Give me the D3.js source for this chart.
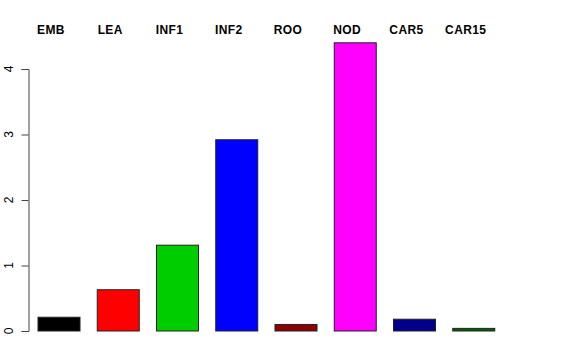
<!DOCTYPE html>
<html>
<head>
<meta charset="utf-8">
<script src="https://cdn.jsdelivr.net/npm/d3@7"></script>
<style>
	body{margin:0;background:#fff;}
	svg{display:block;font-family:"Liberation Sans", Arial, sans-serif;}
</style>
</head>
<body>
<div id="chart"></div>
<script>
//data
let categories = ["EMB", "LEA", "INF1", "INF2", "ROO", "NOD", "CAR5", "CAR15"];
let values = [0.21, 0.63, 1.31, 2.92, 0.10, 4.40, 0.18, 0.04];
let barColors = ["#000000", "#ff0000", "#00cd00", "#0000ff", "#8b0000", "#ff00ff", "#00008b", "#006400"];
let yTicks = [0, 1, 2, 3, 4];

function drawChart(){

	let width = 576;
	let height = 360;

	let svg = d3.select("#chart")
		.append("svg")
		.attr("width", width)
		.attr("height", height);

	//scales
	const xScale = d3.scaleBand()
		.domain(categories)
		.range([38, 494.75])
		.paddingInner(0.291)
		.paddingOuter(0);

	const yScale = d3.scaleLinear()
		.domain([0, 4])
		.range([331, 69]);

	//bars
	svg.selectAll(".bar")
		.data(categories)
		.enter()
		.append("rect")
		.attr("class", "bar")
		.attr("x", (d)=>{ return xScale(d); })
		.attr("y", (d,i)=>{ return yScale(values[i]); })
		.attr("width", xScale.bandwidth())
		.attr("height", (d,i)=>{ return yScale(0) - yScale(values[i]); })
		.attr("fill", (d,i)=>{ return barColors[i]; })
		.attr("stroke", "#222")
		.attr("stroke-width", 1);

	//labels on top
	svg.selectAll(".lab")
		.data(categories)
		.enter()
		.append("text")
		.attr("class", "lab")
		.attr("x", (d)=>{ return xScale(d) + xScale.bandwidth()/2 - 8; })
		.attr("y", 34)
		.attr("text-anchor", "middle")
		.attr("font-weight", "bold")
		.attr("font-size", "12px")
		.attr("letter-spacing", "0.4px")
		.text((d)=>{ return d; });

	//y axis
	const yAxis = d3.axisLeft(yScale)
		.tickValues(yTicks)
		.tickSizeOuter(0)
		.tickSize(7)
		.tickFormat(d3.format("d"));

	let gy = svg.append("g")
		.attr("transform", "translate(28.5,0)")
		.call(yAxis);

	gy.selectAll("path, line").attr("stroke", "#444");
	gy.selectAll("text").remove();

	svg.selectAll(".ytick")
		.data(yTicks)
		.enter()
		.append("text")
		.attr("class", "ytick")
		.attr("transform", (d)=>{ return `translate(12.5,${yScale(d)}) rotate(-90)`; })
		.attr("text-anchor", "middle")
		.attr("font-size", "12px")
		.text((d)=>{ return d; });
}

drawChart();
</script>
</body>
</html>
